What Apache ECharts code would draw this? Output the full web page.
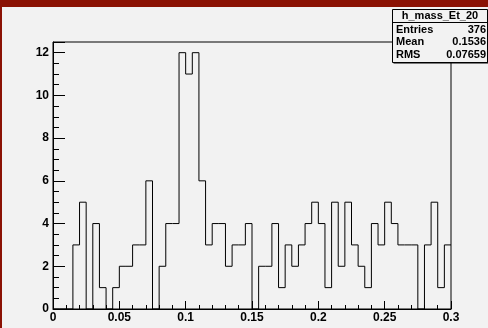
<!DOCTYPE html>
<html>
<head>
<meta charset="utf-8">
<script src="https://cdn.jsdelivr.net/npm/echarts@6/dist/echarts.min.js"></script>
<style>
html,body{margin:0;padding:0;background:#f2f2f2;}
#chart{width:488px;height:328px;}
</style>
</head>
<body>
<div id="chart"></div>
<script>
// Histogram h_mass_Et_20 : 60 bins from 0 to 0.3
var histName = 'h_mass_Et_20';
var binLow = 0;
var binWidth = 0.005;
var counts = [0,0,0,3,5,0,4,1,0,1,
              2,2,3,3,6,0,2,4,4,12,
              11,12,6,3,4,4,2,3,3,4,
              0,2,2,4,1,3,2,3,4,5,
              4,1,5,2,5,3,2,1,4,3,
              5,4,3,3,3,0,3,5,1,3];
var xTicks = [0, 0.05, 0.1, 0.15, 0.2, 0.25, 0.3];
var yTicks = [0, 2, 4, 6, 8, 10, 12];
var statsLabels = ['Entries', 'Mean', 'RMS'];
var statsValues = ['376', '0.1536', '0.07659'];

var stepData = [];
for (var i = 0; i < counts.length; i++) {
  stepData.push([binLow + i * binWidth, counts[i]]);
}
stepData.push([binLow + counts.length * binWidth, counts[counts.length - 1]]);

var FONT = '"Liberation Sans", Arial, Helvetica, sans-serif';
var chart = echarts.init(document.getElementById('chart'), null, {renderer: 'canvas'});

var graphics = [
  {type: 'rect', shape: {x: 0, y: 0, width: 488, height: 7}, style: {fill: '#8b1204'}, z: 100},
  {type: 'rect', shape: {x: 0, y: 0, width: 2, height: 328}, style: {fill: '#8b1204'}, z: 100},
  // stats box shadow + box
  {type: 'rect', shape: {x: 393.5, y: 10.5, width: 95, height: 53}, style: {fill: '#000'}, z: 100},
  {type: 'rect', shape: {x: 392.5, y: 9.5, width: 95, height: 53}, style: {fill: '#f2f2f2', stroke: '#000', lineWidth: 1}, z: 101},
  {type: 'line', shape: {x1: 392.5, y1: 22.5, x2: 487.5, y2: 22.5}, style: {stroke: '#000', lineWidth: 1}, z: 102},
  {type: 'text', x: 440, y: 16, style: {text: histName, font: 'bold 11px ' + FONT, fill: '#000', textAlign: 'center', textVerticalAlign: 'middle'}, z: 103}
];
for (var k = 0; k < statsLabels.length; k++) {
  var yy = 29.5 + k * 12.8;
  graphics.push({type: 'text', x: 396, y: yy, style: {text: statsLabels[k], font: 'bold 11px ' + FONT, fill: '#000', textAlign: 'left', textVerticalAlign: 'middle'}, z: 103});
  graphics.push({type: 'text', x: 486, y: yy, style: {text: statsValues[k], font: 'bold 11px ' + FONT, fill: '#000', textAlign: 'right', textVerticalAlign: 'middle'}, z: 103});
}

chart.setOption({
  animation: false,
  backgroundColor: '#f2f2f2',
  grid: {left: 53, right: 37, top: 42, bottom: 19, show: true, borderColor: '#000', borderWidth: 1, backgroundColor: '#f2f2f2'},
  xAxis: {
    type: 'value', min: xTicks[0], max: xTicks[xTicks.length - 1], interval: 0.05,
    axisLine: {show: true, onZero: false, lineStyle: {color: '#000', width: 1}},
    axisTick: {show: true, inside: true, length: 8, lineStyle: {color: '#000'}},
    minorTick: {show: true, splitNumber: 5, length: 4, lineStyle: {color: '#000'}},
    splitLine: {show: false},
    axisLabel: {margin: 3, color: '#000', fontFamily: FONT, fontWeight: 'bold', fontSize: 12,
      formatter: function (v) { return String(Math.round(v * 1000) / 1000); }}
  },
  yAxis: [{
    type: 'value', min: yTicks[0], max: 12.5, interval: 2,
    axisLine: {show: true, onZero: false, lineStyle: {color: '#000', width: 1}},
    axisTick: {show: true, inside: true, length: 12, lineStyle: {color: '#000'}},
    splitLine: {show: false},
    axisLabel: {margin: 4, color: '#000', fontFamily: FONT, fontWeight: 'bold', fontSize: 12,
      formatter: function (v) { return yTicks.indexOf(v) >= 0 ? String(v) : ''; }}
  }, {
    type: 'value', min: 0, max: 12.5, interval: 0.5, position: 'left', offset: 0,
    axisLine: {show: false},
    axisTick: {show: true, inside: true, length: 6, lineStyle: {color: '#000'}},
    axisLabel: {show: false},
    splitLine: {show: false}
  }],
  series: [{
    type: 'line', step: 'end', data: stepData, yAxisIndex: 0,
    symbol: 'none', lineStyle: {color: '#000', width: 1}, z: 3
  }],
  graphic: graphics
});
</script>
</body>
</html>
